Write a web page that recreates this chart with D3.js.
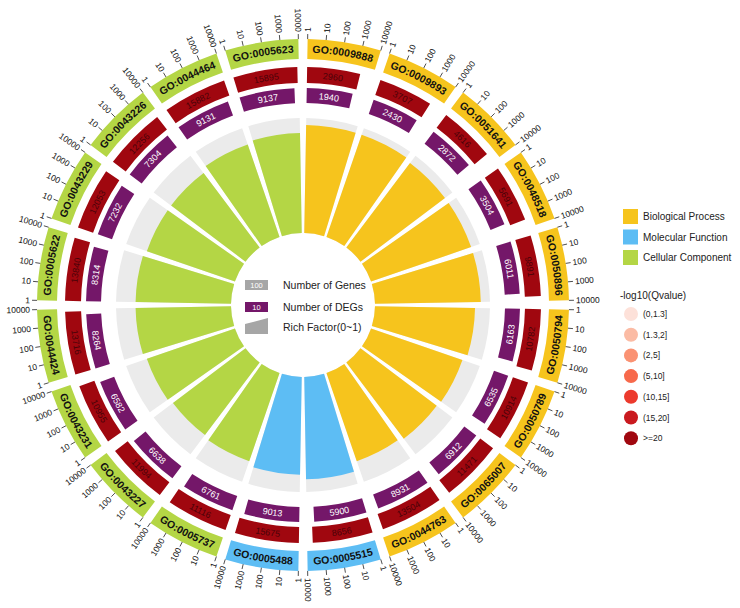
<!DOCTYPE html>
<html>
<head>
<meta charset="utf-8">
<script src="https://cdn.jsdelivr.net/npm/d3@7"></script>
<style>
  body { margin: 0; background: #fff; font-family: "Liberation Sans", Arial, sans-serif; }
</style>
</head>
<body>
<div class="chart"></div>
<script>
// Data.
const goTerms = ['GO:0009888', 'GO:0009893', 'GO:0051641', 'GO:0048518', 'GO:0050896',
    'GO:0050794', 'GO:0050789', 'GO:0065007', 'GO:0044763', 'GO:0005515',
    'GO:0005488', 'GO:0005737', 'GO:0043227', 'GO:0043231', 'GO:0044424',
    'GO:0005622', 'GO:0043229', 'GO:0043226', 'GO:0044464', 'GO:0005623'];
const ontology = ['BP', 'BP', 'BP', 'BP', 'BP', 'BP', 'BP', 'BP', 'BP', 'MF',
    'MF', 'CC', 'CC', 'CC', 'CC', 'CC', 'CC', 'CC', 'CC', 'CC'];
const geneNum = [2960, 3707, 4616, 5691, 9891, 10782, 10914, 11471, 13504, 8656,
    15675, 11116, 11994, 10955, 13716, 13840, 12053, 12256, 15882, 15895];
const degNum = [1940, 2430, 2872, 3504, 6011, 6163, 6535, 6912, 8931, 5900,
    9013, 6761, 6638, 6582, 8264, 8314, 7232, 7304, 9131, 9137];
const richFactor = [0.94, 0.94, 0.92, 0.92, 0.92, 0.87, 0.84, 0.83, 0.81, 0.89,
    0.85, 0.81, 0.79, 0.81, 0.83, 0.83, 0.81, 0.81, 0.85, 0.87];
const qValueClass = [6, 6, 6, 6, 6, 6, 6, 6, 6, 6, 6, 6, 6, 6, 6, 6, 6, 6, 6, 6];
const axisTicks = [1, 10, 100, 1000, 10000];

const ontologyKeys = ['BP', 'MF', 'CC'];
const ontologyNames = ['Biological Process', 'Molecular Function', 'Cellular Component'];
const ontologyColors = ['#f6c41d', '#5dbdf4', '#b4d645'];
const qLabels = ['(0,1.3]', '(1.3,2]', '(2,5]', '(5,10]', '(10,15]', '(15,20]', '>=20'];
const qColors = ['#fde1d9', '#fbbba4', '#fa9273', '#f7694b', '#ec3a2d', '#c91a1f', '#a0070f'];

// Layout.
const width = 740, height = 608;
const cx = 303, cy = 305;
const gapDeg = 2;
const rad = d => d * Math.PI / 180;

const R = {
    bandIn: 246, bandOut: 266,
    tickOut: 271, tickLabel: 273,
    geneIn: 222, geneOut: 238,
    degIn: 202, degOut: 217,
    rfIn: 72, rfOut: 187
};

const svg = d3.select('.chart')
    .append('svg')
    .attr('width', width)
    .attr('height', height);

const defs = svg.append('defs');
const g = svg.append('g').attr('transform', `translate(${cx},${cy})`);

const sectorDeg = 360 / goTerms.length;
const sectors = goTerms.map((id, i) => ({
    i, id,
    a0: i * sectorDeg + gapDeg / 2,
    a1: (i + 1) * sectorDeg - gapDeg / 2,
    color: ontologyColors[ontologyKeys.indexOf(ontology[i])]
}));

// Scales.
const countScale = d3.scaleLog().domain([1, 20000]).range([0, 1]).clamp(true);
const tickScale = d3.scaleLog().domain([1, 10000]).range([0, 1]);
const rfScale = d3.scaleLinear().domain([0, 1]).range([R.rfIn, R.rfOut]);

const arc = d3.arc();
const pt = (r, a) => [r * Math.sin(rad(a)), -r * Math.cos(rad(a))];

// Path for text bent along an arc; upper half reads clockwise, lower half counter-clockwise.
let pathId = 0;
function arcTextPath(r, a0, a1, fs) {
    const mid = (a0 + a1) / 2;
    const upper = mid < 90 || mid > 270;
    const rr = upper ? r - 0.35 * fs : r + 0.35 * fs;
    const s = pt(rr, upper ? a0 : a1), e = pt(rr, upper ? a1 : a0);
    const large = (a1 - a0) > 180 ? 1 : 0;
    const id = 'tp' + (pathId++);
    defs.append('path').attr('id', id)
        .attr('d', `M${s[0]},${s[1]} A${rr},${rr} 0 ${large} ${upper ? 1 : 0} ${e[0]},${e[1]}`);
    return id;
}

function bentText(parent, r, a0, a1, fs, txt, fill, weight) {
    const id = arcTextPath(r, a0 - 20, a1 + 20, fs);
    parent.append('text')
        .attr('font-size', fs)
        .attr('fill', fill)
        .attr('font-weight', weight || 'normal')
        .append('textPath')
        .attr('href', '#' + id)
        .attr('startOffset', '50%')
        .attr('text-anchor', 'middle')
        .text(txt);
}

// Ring 4: rich factor background + bars.
const rfG = g.append('g').attr('class', 'rich');
rfG.selectAll('path.bg')
    .data(sectors)
    .join('path')
    .attr('class', 'bg')
    .attr('fill', '#ebebeb')
    .attr('d', d => arc({innerRadius: R.rfIn, outerRadius: R.rfOut, startAngle: rad(d.a0), endAngle: rad(d.a1)}));
rfG.selectAll('path.bar')
    .data(sectors)
    .join('path')
    .attr('class', 'bar')
    .attr('fill', d => d.color)
    .attr('d', d => arc({innerRadius: R.rfIn, outerRadius: rfScale(richFactor[d.i]), startAngle: rad(d.a0), endAngle: rad(d.a1)}));

// Ring 3: number of DEGs.
const degG = g.append('g').attr('class', 'degs');
sectors.forEach(d => {
    const end = d.a0 + countScale(degNum[d.i]) * (d.a1 - d.a0);
    degG.append('path')
        .attr('fill', '#741769')
        .attr('d', arc({innerRadius: R.degIn, outerRadius: R.degOut, startAngle: rad(d.a0), endAngle: rad(end)}));
    bentText(degG, (R.degIn + R.degOut) / 2, d.a0, end, 9, degNum[d.i], '#ffffff');
});

// Ring 2: number of genes, coloured by Q value.
const geneG = g.append('g').attr('class', 'genes');
sectors.forEach(d => {
    const end = d.a0 + countScale(geneNum[d.i]) * (d.a1 - d.a0);
    geneG.append('path')
        .attr('fill', qColors[qValueClass[d.i]])
        .attr('d', arc({innerRadius: R.geneIn, outerRadius: R.geneOut, startAngle: rad(d.a0), endAngle: rad(end)}));
    bentText(geneG, (R.geneIn + R.geneOut) / 2, d.a0, end, 9, geneNum[d.i], '#4a0208');
});

// Ring 1: GO term bands.
const bandG = g.append('g').attr('class', 'bands');
sectors.forEach(d => {
    bandG.append('path')
        .attr('fill', d.color)
        .attr('d', arc({innerRadius: R.bandIn, outerRadius: R.bandOut, startAngle: rad(d.a0), endAngle: rad(d.a1)}));
    bentText(bandG, (R.bandIn + R.bandOut) / 2, d.a0, d.a1, 10.5, d.id, '#111111', 'bold');
});

// Axis ticks on the outer edge of every sector.
const tickG = g.append('g').attr('class', 'ticks');
sectors.forEach(d => {
    axisTicks.forEach(t => {
        const a = d.a0 + tickScale(t) * (d.a1 - d.a0);
        const p0 = pt(R.bandOut, a), p1 = pt(R.tickOut, a);
        tickG.append('line')
            .attr('x1', p0[0]).attr('y1', p0[1])
            .attr('x2', p1[0]).attr('y2', p1[1])
            .attr('stroke', '#222').attr('stroke-width', 0.8);
        const right = a < 180;
        tickG.append('text')
            .attr('font-size', 8.5)
            .attr('fill', '#111')
            .attr('dominant-baseline', 'central')
            .attr('text-anchor', right ? 'start' : 'end')
            .attr('transform', `rotate(${a - 90}) translate(${R.tickLabel},0)` + (right ? '' : ' rotate(180)'))
            .text(t);
    });
});

// Centre legend.
const cl = svg.append('g').attr('class', 'centre-legend');
cl.append('rect').attr('x', 245).attr('y', 280).attr('width', 23).attr('height', 10).attr('fill', '#a6a6a6');
cl.append('text').attr('x', 256.5).attr('y', 285).attr('text-anchor', 'middle')
    .attr('dominant-baseline', 'central').attr('font-size', 7.5).attr('fill', '#fff').text('100');
cl.append('rect').attr('x', 245).attr('y', 302).attr('width', 23).attr('height', 10).attr('fill', '#741769');
cl.append('text').attr('x', 256.5).attr('y', 307).attr('text-anchor', 'middle')
    .attr('dominant-baseline', 'central').attr('font-size', 7.5).attr('fill', '#fff').text('10');
cl.append('path').attr('d', 'M245,334 L268,334 L268,318 L245,324 Z').attr('fill', '#a6a6a6');
[['Number of Genes', 285], ['Number of DEGs', 307], ['Rich Factor(0~1)', 327]].forEach(([t, y]) => {
    cl.append('text').attr('x', 283).attr('y', y).attr('dominant-baseline', 'central')
        .attr('font-size', 10.5).attr('fill', '#222').text(t);
});

// Right legend: ontology classes.
const lg = svg.append('g').attr('class', 'legend');
ontologyNames.forEach((name, i) => {
    const y = 209 + i * 20.5;
    lg.append('rect').attr('x', 623).attr('y', y).attr('width', 15).attr('height', 15).attr('fill', ontologyColors[i]);
    lg.append('text').attr('x', 643).attr('y', y + 7.5).attr('dominant-baseline', 'central')
        .attr('font-size', 10).attr('fill', '#222').text(name);
});

// Right legend: Q value.
lg.append('text').attr('x', 620).attr('y', 295).attr('dominant-baseline', 'central')
    .attr('font-size', 10).attr('fill', '#222').text('-log10(Qvalue)');
qLabels.forEach((lab, i) => {
    const y = 314 + i * 20.7;
    lg.append('circle').attr('cx', 631).attr('cy', y).attr('r', 7).attr('fill', qColors[i]);
    lg.append('text').attr('x', 643).attr('y', y).attr('dominant-baseline', 'central')
        .attr('font-size', 8.5).attr('fill', '#222').text(lab);
});
</script>
</body>
</html>
